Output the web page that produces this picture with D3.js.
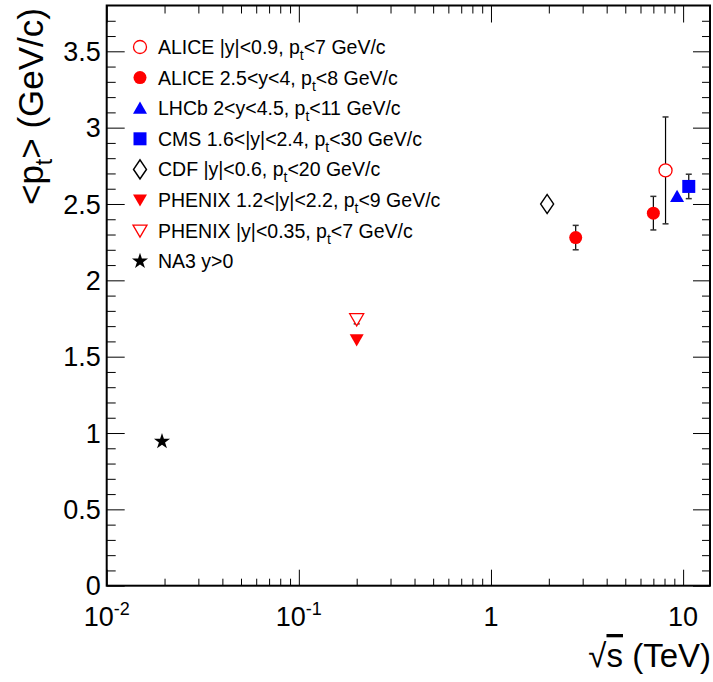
<!DOCTYPE html>
<html>
<head>
<meta charset="utf-8">
<script src="https://cdn.jsdelivr.net/npm/d3@7"></script>
<style>
  body { margin: 0; background: #fff; }
  text { font-family: "Liberation Sans", Arial, sans-serif; fill: #000; }
</style>
</head>
<body>
<svg id="chart" width="713" height="682"></svg>
<script>
// series: sqrt(s) in TeV, <pt> in GeV/c, error
var aliceMidX = [8.1],   aliceMidY = [2.72],  aliceMidE = [0.35];
var aliceFwdX = [2.76, 7.0], aliceFwdY = [2.28, 2.44], aliceFwdE = [0.08, 0.11];
var lhcbX = [9.3],  lhcbY = [2.55],  lhcbE = [0];
var cmsX = [10.7],  cmsY = [2.615], cmsE = [0.08];
var cdfX = [1.96],  cdfY = [2.50],  cdfE = [0];
var phenixFwdX = [0.2], phenixFwdY = [1.61], phenixFwdE = [0];
var phenixMidX = [0.2], phenixMidY = [1.745], phenixMidE = [0.03];
var na3X = [0.0194], na3Y = [0.945], na3E = [0];

var yTicks = [0, 0.5, 1, 1.5, 2, 2.5, 3, 3.5];
var xDecades = [0.01, 0.1, 1, 10];
var xLabels = [["10", "-2"], ["10", "-1"], ["1", ""], ["10", ""]];

var series = [
  {name: ["ALICE |y|<0.9, p", "t", "<7 GeV/c"], x: aliceMidX, y: aliceMidY, e: aliceMidE, type: "circle", color: "#ff0000", open: true},
  {name: ["ALICE 2.5<y<4, p", "t", "<8 GeV/c"], x: aliceFwdX, y: aliceFwdY, e: aliceFwdE, type: "circle", color: "#ff0000", open: false},
  {name: ["LHCb 2<y<4.5, p", "t", "<11 GeV/c"], x: lhcbX, y: lhcbY, e: lhcbE, type: "triup", color: "#0000ff", open: false},
  {name: ["CMS 1.6<|y|<2.4, p", "t", "<30 GeV/c"], x: cmsX, y: cmsY, e: cmsE, type: "square", color: "#0000ff", open: false},
  {name: ["CDF |y|<0.6, p", "t", "<20 GeV/c"], x: cdfX, y: cdfY, e: cdfE, type: "diamond", color: "#000000", open: true},
  {name: ["PHENIX 1.2<|y|<2.2, p", "t", "<9 GeV/c"], x: phenixFwdX, y: phenixFwdY, e: phenixFwdE, type: "tridown", color: "#ff0000", open: false},
  {name: ["PHENIX |y|<0.35, p", "t", "<7 GeV/c"], x: phenixMidX, y: phenixMidY, e: phenixMidE, type: "tridown", color: "#ff0000", open: true},
  {name: ["NA3 y>0", "", ""], x: na3X, y: na3Y, e: na3E, type: "star", color: "#000000", open: false}
];

var padL = 106.7, padR = 710, padT = 5.5, padB = 585.7;

var x = d3.scaleLog().domain([0.01, 13.8]).range([padL, padR]);
var y = d3.scaleLinear().domain([0, 3.8]).range([padB, padT]);

var svg = d3.select("#chart");

// minor / major tick lists
var xMinor = [];
xDecades.forEach(function(d) {
  for (var k = 2; k <= 9; k++) if (d * k <= 13.8) xMinor.push(d * k);
});
var yMinor = d3.range(0, 38).map(function(i) { return i / 10; })
  .filter(function(v) { return Math.abs(v * 2 - Math.round(v * 2)) > 1e-6; });

function noDomain(g) { g.select(".domain").remove(); g.selectAll("line").attr("stroke", "#000").attr("stroke-width", 1); }

svg.append("g").attr("transform", "translate(0," + padB + ")")
  .call(d3.axisBottom(x).tickValues(xMinor).tickSize(-7).tickFormat("")).call(noDomain);
svg.append("g").attr("transform", "translate(0," + padB + ")")
  .call(d3.axisBottom(x).tickValues(xDecades).tickSize(-16).tickFormat("")).call(noDomain);
svg.append("g").attr("transform", "translate(0," + padT + ")")
  .call(d3.axisTop(x).tickValues(xMinor).tickSize(-8).tickFormat("")).call(noDomain);
svg.append("g").attr("transform", "translate(0," + padT + ")")
  .call(d3.axisTop(x).tickValues(xDecades).tickSize(-17).tickFormat("")).call(noDomain);

svg.append("g").attr("transform", "translate(" + padL + ",0)")
  .call(d3.axisLeft(y).tickValues(yMinor).tickSize(-9).tickFormat("")).call(noDomain);
svg.append("g").attr("transform", "translate(" + padL + ",0)")
  .call(d3.axisLeft(y).tickValues(yTicks).tickSize(-18).tickFormat("")).call(noDomain);
svg.append("g").attr("transform", "translate(" + padR + ",0)")
  .call(d3.axisRight(y).tickValues(yMinor).tickSize(-8).tickFormat("")).call(noDomain);
svg.append("g").attr("transform", "translate(" + padR + ",0)")
  .call(d3.axisRight(y).tickValues(yTicks).tickSize(-17).tickFormat("")).call(noDomain);

// frame
svg.append("rect")
  .attr("x", padL).attr("y", padT)
  .attr("width", padR - padL).attr("height", padB - padT)
  .attr("fill", "none").attr("stroke", "#000").attr("stroke-width", 2);

// y tick labels
svg.selectAll(".ylab").data(yTicks).enter().append("text")
  .attr("x", padL - 6).attr("y", function(d) { return y(d); })
  .attr("dy", "0.36em").attr("text-anchor", "end")
  .style("font-size", "27px")
  .text(function(d) { return d; });

// x tick labels
var xl = svg.selectAll(".xlab").data(xDecades).enter().append("text")
  .attr("x", function(d) { return x(d); }).attr("y", 626)
  .attr("text-anchor", "middle")
  .style("font-size", "27px");
xl.append("tspan").text(function(d, i) { return xLabels[i][0]; });
xl.append("tspan").attr("dy", -11).style("font-size", "18px")
  .text(function(d, i) { return xLabels[i][1]; });

// axis titles
var yt = svg.append("text")
  .attr("transform", "translate(43,8) rotate(-90)")
  .attr("text-anchor", "end")
  .style("font-size", "35px");
yt.append("tspan").text("<p");
yt.append("tspan").attr("dy", 9).style("font-size", "23px").text("t");
yt.append("tspan").attr("dy", -9).text("> (GeV/c)");

var xt = svg.append("text")
  .attr("x", 711).attr("y", 667)
  .attr("text-anchor", "end")
  .style("font-size", "33px");
xt.append("tspan").text("\u221a");
xt.append("tspan").style("text-decoration", "overline").text("s");
xt.append("tspan").text(" (TeV)");

// markers
function markerPath(type) {
  if (type === "circle") return d3.symbol(d3.symbolCircle, 133)();
  if (type === "square") return d3.symbol(d3.symbolSquare, 169)();
  if (type === "triup" || type === "tridown") return d3.symbol(d3.symbolTriangle, 85)();
  if (type === "diamond") return d3.symbol(d3.symbolDiamond, 104)();
  return d3.symbol(d3.symbolStar, 80)();
}
function markerTransform(type, px, py) {
  var t = "translate(" + px + "," + py + ")";
  if (type === "triup") t += " translate(0,1.5)";
  if (type === "tridown") t += " translate(0,-1.5) rotate(180)";
  if (type === "diamond") t += " scale(1.18,1)";
  return t;
}
function drawMarker(g, s, px, py) {
  g.append("path")
    .attr("d", markerPath(s.type))
    .attr("transform", markerTransform(s.type, px, py))
    .attr("fill", s.open ? "#fff" : s.color)
    .attr("stroke", s.color)
    .attr("stroke-width", s.open ? 1.3 : 0);
}

var plot = svg.append("g");
series.forEach(function(s) {
  s.x.forEach(function(xv, i) {
    var px = x(xv), py = y(s.y[i]);
    if (s.e[i] > 0) {
      var y1 = y(s.y[i] + s.e[i]), y2 = y(s.y[i] - s.e[i]);
      plot.append("line").attr("x1", px).attr("x2", px).attr("y1", y1).attr("y2", y2)
        .attr("stroke", "#000").attr("stroke-width", 1.2);
      [y1, y2].forEach(function(yy) {
        plot.append("line").attr("x1", px - 3).attr("x2", px + 3).attr("y1", yy).attr("y2", yy)
          .attr("stroke", "#333").attr("stroke-width", 1.5);
      });
    }
    drawMarker(plot, s, px, py);
  });
});

// legend
var legend = svg.append("g");
series.forEach(function(s, i) {
  var ly = 47 + i * 30.6;
  drawMarker(legend, s, 140, ly);
  var t = legend.append("text")
    .attr("x", 158).attr("y", ly + 7)
    .style("font-size", "19.5px");
  t.append("tspan").text(s.name[0]);
  if (s.name[1]) {
    t.append("tspan").attr("dy", 6).style("font-size", "14px").text(s.name[1]);
    t.append("tspan").attr("dy", -6).text(s.name[2]);
  }
});
</script>
</body>
</html>
